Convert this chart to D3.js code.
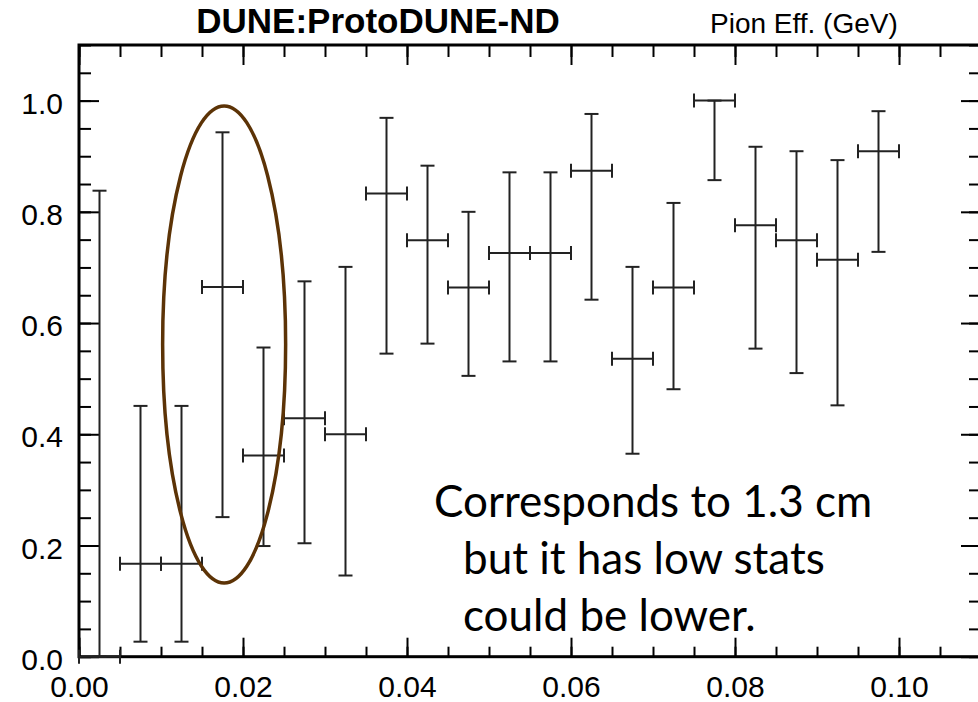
<!DOCTYPE html>
<html>
<head>
<meta charset="utf-8">
<script src="https://cdn.jsdelivr.net/npm/d3@7"></script>
<style>
  body { margin: 0; background: #fff; }
  svg { display: block; }
  .lbl { font-family: "Liberation Sans", Arial, Helvetica, sans-serif; fill: #000; }
  .note { font-family: Lato, "Open Sans", sans-serif; fill: #000; }
</style>
</head>
<body>
<div id="chart"></div>
<script>
// efficiency per bin, bins 0.005 wide
const binCenter = [0.0025, 0.0075, 0.0125, 0.0175, 0.0225, 0.0275, 0.0325, 0.0375, 0.0425, 0.0475,
                   0.0525, 0.0575, 0.0625, 0.0675, 0.0725, 0.0775, 0.0825, 0.0875, 0.0925, 0.0975];
const binHalf = 0.0025;
const eff     = [0.000, 0.167, 0.167, 0.665, 0.362, 0.429, 0.400, 0.833, 0.749, 0.664,
                 0.726, 0.726, 0.874, 0.536, 0.664, 1.000, 0.776, 0.749, 0.714, 0.909];
const effLow  = [0.000, 0.027, 0.027, 0.251, 0.199, 0.204, 0.146, 0.545, 0.563, 0.505,
                 0.531, 0.531, 0.642, 0.365, 0.481, 0.857, 0.554, 0.510, 0.452, 0.728];
const effHigh = [0.838, 0.451, 0.451, 0.943, 0.556, 0.675, 0.701, 0.969, 0.883, 0.800,
                 0.871, 0.871, 0.976, 0.701, 0.816, 1.000, 0.917, 0.909, 0.893, 0.981];

const xMajor = [0.00, 0.02, 0.04, 0.06, 0.08, 0.10];
const yMajor = [0.0, 0.2, 0.4, 0.6, 0.8, 1.0];
const xMinor = d3.range(0, 0.1101, 0.005);
const yMinor = d3.range(0, 1.101, 0.05);

const title = "DUNE:ProtoDUNE-ND";
const subTitle = "Pion Eff. (GeV)";
const noteLines = ["Corresponds to 1.3 cm", "but it has low stats", "could be lower."];

const width = 978, height = 702,
      margin = ({top: 45, right: -3, bottom: 45.3, left: 79}); // right frame sits just outside the window

const svg = d3.select("#chart")
    .append("svg")
    .attr("width", width)
    .attr("height", height)
    .attr("viewBox", [0, 0, width, height]);

const x = d3.scaleLinear()
    .domain([0, 0.11])
    .range([margin.left, width - margin.right]);

const y = d3.scaleLinear()
    .domain([0, 1.1])
    .range([height - margin.bottom, margin.top]);

const x0 = x.range()[0], x1 = x.range()[1], y0 = y.range()[0], y1 = y.range()[1];

// note goes in first, under everything else
// first line kept coming out ~29px right of the others, pull it back
const noteDx = [-29, 0, 0];
const note = svg.append("text")
    .attr("class", "note")
    .attr("font-size", 44);
note.selectAll("tspan")
    .data(noteLines)
    .join("tspan")
    .attr("x", (d, i) => 463 + noteDx[i])
    .attr("y", (d, i) => 517 + i * 57)
    .text(d => d);

// ticks pointing inwards on all four sides
function axisGroup(axis, tx, ty) {
  const g = svg.append("g")
      .attr("transform", `translate(${tx},${ty})`)
      .call(axis);
  g.select(".domain").remove();
  g.selectAll(".tick line").attr("stroke", "#000").attr("stroke-width", 2);
  return g;
}

const xb = axisGroup(d3.axisBottom(x).tickValues(xMajor).tickSizeInner(-19).tickSizeOuter(0)
    .tickPadding(19).tickFormat(d3.format(".2f")), 0, y0);
axisGroup(d3.axisBottom(x).tickValues(xMinor).tickSizeInner(-10).tickSizeOuter(0).tickFormat(""), 0, y0);
axisGroup(d3.axisTop(x).tickValues(xMajor).tickSizeInner(-20).tickSizeOuter(0).tickFormat(""), 0, y1);
axisGroup(d3.axisTop(x).tickValues(xMinor).tickSizeInner(-12).tickSizeOuter(0).tickFormat(""), 0, y1);

const yl = axisGroup(d3.axisLeft(y).tickValues(yMajor).tickSizeInner(-20).tickSizeOuter(0)
    .tickPadding(16).tickFormat(d3.format(".1f")), x0, 0);
axisGroup(d3.axisLeft(y).tickValues(yMinor).tickSizeInner(-12).tickSizeOuter(0).tickFormat(""), x0, 0);
axisGroup(d3.axisRight(y).tickValues(yMajor).tickSizeInner(-20).tickSizeOuter(0).tickFormat(""), x1, 0);
axisGroup(d3.axisRight(y).tickValues(yMinor).tickSizeInner(-12).tickSizeOuter(0).tickFormat(""), x1, 0);

xb.attr("font-family", null).selectAll("text").attr("class", "lbl").attr("font-size", 30);
yl.attr("font-family", null).selectAll("text").attr("class", "lbl").attr("font-size", 30).attr("dy", "0.42em");

// frame
svg.append("rect")
    .attr("x", x0).attr("y", y1)
    .attr("width", x1 - x0).attr("height", y0 - y1)
    .attr("fill", "none")
    .attr("stroke", "#000")
    .attr("stroke-width", 3);

// error bars
const data = binCenter.map((c, i) => ({c, v: eff[i], lo: effLow[i], hi: effHigh[i]}));
const cap = 7;

let bar = svg.selectAll(".bar")
    .data(data)
    .join("g")
    .attr("class", "bar")
    .attr("stroke", "#222")
    .attr("stroke-width", 2)
    .attr("fill", "none");

bar.append("line")
    .attr("x1", d => x(d.c)).attr("x2", d => x(d.c))
    .attr("y1", d => y(d.lo)).attr("y2", d => y(d.hi));
bar.append("line")
    .attr("x1", d => x(d.c) - cap).attr("x2", d => x(d.c) + cap)
    .attr("y1", d => y(d.lo)).attr("y2", d => y(d.lo));
bar.append("line")
    .attr("x1", d => x(d.c) - cap).attr("x2", d => x(d.c) + cap)
    .attr("y1", d => y(d.hi)).attr("y2", d => y(d.hi));
bar.append("line")
    .attr("x1", d => x(d.c - binHalf)).attr("x2", d => x(d.c + binHalf))
    .attr("y1", d => y(d.v)).attr("y2", d => y(d.v));
bar.append("line")
    .attr("x1", d => x(d.c - binHalf)).attr("x2", d => x(d.c - binHalf))
    .attr("y1", d => y(d.v) - cap).attr("y2", d => y(d.v) + cap);
bar.append("line")
    .attr("x1", d => x(d.c + binHalf)).attr("x2", d => x(d.c + binHalf))
    .attr("y1", d => y(d.v) - cap).attr("y2", d => y(d.v) + cap);

// titles
svg.append("text")
    .attr("class", "lbl")
    .attr("x", 378).attr("y", 33)
    .attr("text-anchor", "middle")
    .attr("font-size", 35)
    .attr("font-weight", "bold")
    .text(title);

svg.append("text")
    .attr("class", "lbl")
    .attr("x", 710).attr("y", 33)
    .attr("font-size", 28)
    .text(subTitle);

// ellipse around the 0.0175 bin
const ell = {cx: 0.0177, cy: 0.5615, rx: 0.0075, ry: 0.429};
svg.append("ellipse")
    .attr("cx", x(ell.cx))
    .attr("cy", y(ell.cy))
    .attr("rx", x(ell.cx + ell.rx) - x(ell.cx))
    .attr("ry", y(ell.cy - ell.ry) - y(ell.cy))
    .attr("fill", "none")
    .attr("stroke", "#5c3306")
    .attr("stroke-width", 3.5);
</script>
</body>
</html>
